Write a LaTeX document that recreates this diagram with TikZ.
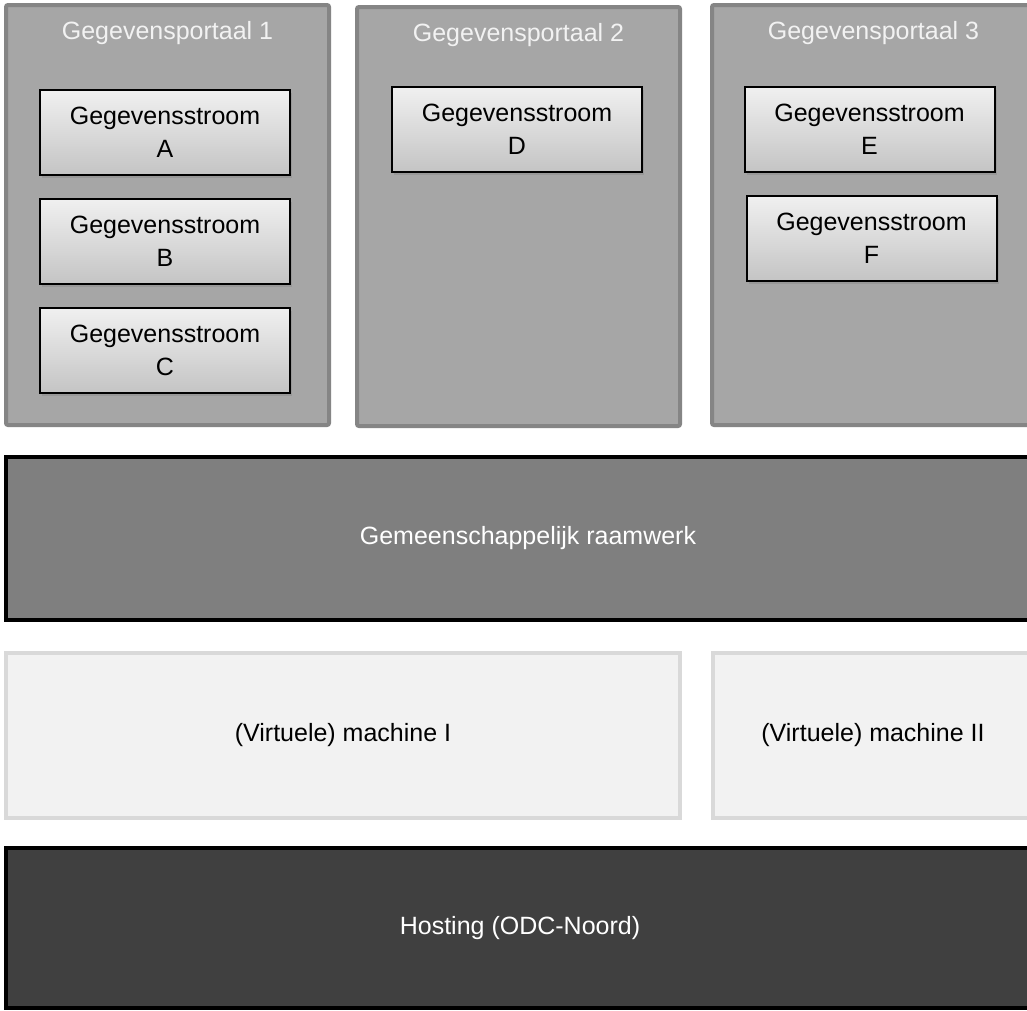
\documentclass[tikz,border=0pt]{standalone}
\usepackage{fontspec}
\setmainfont{Liberation Sans}
\usetikzlibrary{shadows}
\definecolor{portalfill}{HTML}{A6A6A6}
\definecolor{portalline}{HTML}{858585}
\definecolor{streamtop}{HTML}{F0F0F0}
\definecolor{streambot}{HTML}{C4C4C4}
\definecolor{kaderfill}{HTML}{7F7F7F}
\definecolor{machfill}{HTML}{F2F2F2}
\definecolor{machline}{HTML}{D9D9D9}
\definecolor{hostfill}{HTML}{404040}
\begin{document}
\begin{tikzpicture}[x=1pt,y=-1pt,
    every node/.style={font=\fontsize{25}{33}\selectfont, inner sep=0pt, outer sep=0pt},
    portal/.style={rectangle, draw=portalline, fill=portalfill, line width=4pt,
      rounded corners=2pt, minimum width=323pt, minimum height=420pt},
    title/.style={text=white!95!black},
    stream/.style={rectangle, draw=black, line width=2pt, top color=streamtop,
      bottom color=streambot, minimum width=250pt, minimum height=85pt, align=center,
      drop shadow={shadow xshift=2pt, shadow yshift=-3pt, opacity=0.35}},
    layer/.style={rectangle, draw=black, line width=4pt, minimum height=163pt, text=white},
    machine/.style={rectangle, draw=machline, fill=machfill, line width=4pt,
      minimum height=165pt}]
  \clip (0,0) rectangle (1027,1010);
  \fill[white] (0,0) rectangle (1027,1010);
  % portals
  \node[portal] (p1) at (167.5,215) {};
  \node[portal, minimum height=419pt] (p2) at (518.5,216.5) {};
  \node[portal] (p3) at (873.5,215) {};
  \node[title] (t1) at (167.5,33) {Gegevensportaal 1};
  \node[title] (t2) at (518.5,35) {Gegevensportaal 2};
  \node[title] (t3) at (873.5,33) {Gegevensportaal 3};
  % streams
  \node[stream] (a) at (165,132.5) {Gegevensstroom\\A};
  \node[stream] (b) at (165,241.5) {Gegevensstroom\\B};
  \node[stream] (c) at (165,350.5) {Gegevensstroom\\C};
  \node[stream] (d) at (517,129.5) {Gegevensstroom\\D};
  \node[stream] (e) at (869.5,129.5) {Gegevensstroom\\E};
  \node[stream] (f) at (871.5,238.5) {Gegevensstroom\\F};
  % layers
  \node[layer, fill=kaderfill, minimum width=1044pt] (kader) at (528,538.5)
    {Gemeenschappelijk raamwerk};
  \node[machine, minimum width=674pt] (m1) at (343,735.5) {(Virtuele) machine I};
  \node[machine, minimum width=320pt] (m2) at (873,735.5) {(Virtuele) machine II};
  \node[layer, fill=hostfill, minimum width=1028pt, minimum height=160pt] (host)
    at (520,928) {Hosting (ODC-Noord)};
\end{tikzpicture}
\end{document}
